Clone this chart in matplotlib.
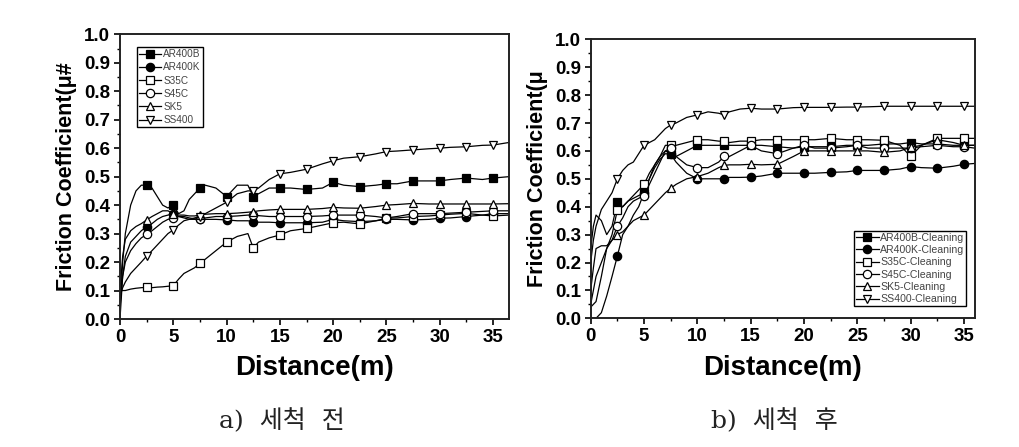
import matplotlib
matplotlib.use('Agg')
import matplotlib.pyplot as plt
from matplotlib.ticker import MultipleLocator

# ---------------- data: panel a (before cleaning) ----------------
dist_a = [0, 0.25, 0.5, 1, 1.5, 2, 2.5, 3, 3.5, 4, 4.5, 5, 5.5, 6, 6.5, 7, 7.5, 8, 9, 10,
          11, 12, 12.5, 13, 14, 15, 16, 17.5, 19, 20, 21, 22.5, 24, 25, 26, 27.5, 29, 30,
          31, 32.5, 34, 35, 36.5]
ar400b_a = [0.03, 0.20, 0.30, 0.40, 0.45, 0.47, 0.47, 0.46, 0.43, 0.40, 0.39, 0.40, 0.37,
            0.38, 0.42, 0.44, 0.46, 0.47, 0.46, 0.43, 0.47, 0.47, 0.43, 0.44, 0.46, 0.46,
            0.46, 0.455, 0.46, 0.48, 0.47, 0.465, 0.47, 0.475, 0.475, 0.485, 0.485, 0.485,
            0.49, 0.495, 0.49, 0.495, 0.50]
ar400k_a = [0.0, 0.15, 0.22, 0.27, 0.29, 0.31, 0.324, 0.335, 0.35, 0.36, 0.365, 0.37, 0.36,
            0.355, 0.35, 0.35, 0.35, 0.35, 0.35, 0.348, 0.345, 0.345, 0.342, 0.34, 0.34,
            0.338, 0.338, 0.338, 0.34, 0.35, 0.345, 0.342, 0.345, 0.35, 0.35, 0.348, 0.35,
            0.354, 0.355, 0.36, 0.365, 0.37, 0.37]
s35c_a = [0.10, 0.10, 0.10, 0.105, 0.108, 0.11, 0.111, 0.11, 0.112, 0.113, 0.115, 0.117,
          0.14, 0.16, 0.17, 0.18, 0.196, 0.21, 0.24, 0.27, 0.29, 0.30, 0.25, 0.27, 0.285,
          0.295, 0.31, 0.318, 0.33, 0.338, 0.34, 0.334, 0.345, 0.354, 0.355, 0.36, 0.362,
          0.365, 0.368, 0.371, 0.365, 0.362, 0.365]
s45c_a = [0.05, 0.15, 0.20, 0.24, 0.265, 0.285, 0.297, 0.31, 0.325, 0.34, 0.35, 0.355, 0.36,
          0.36, 0.355, 0.352, 0.35, 0.355, 0.36, 0.36, 0.362, 0.365, 0.365, 0.363, 0.36,
          0.36, 0.36, 0.36, 0.362, 0.365, 0.365, 0.365, 0.36, 0.355, 0.36, 0.37, 0.37,
          0.37, 0.372, 0.375, 0.378, 0.38, 0.38]
sk5_a = [0.10, 0.22, 0.28, 0.31, 0.325, 0.335, 0.348, 0.36, 0.37, 0.38, 0.38, 0.37, 0.365,
         0.365, 0.362, 0.362, 0.365, 0.368, 0.37, 0.37, 0.372, 0.375, 0.377, 0.38, 0.383,
         0.385, 0.385, 0.385, 0.388, 0.392, 0.39, 0.389, 0.395, 0.40, 0.402, 0.406, 0.404,
         0.404, 0.404, 0.404, 0.404, 0.404, 0.405]
ss400_a = [0.08, 0.11, 0.13, 0.16, 0.18, 0.20, 0.221, 0.24, 0.26, 0.28, 0.30, 0.313, 0.33,
           0.345, 0.35, 0.355, 0.36, 0.37, 0.39, 0.41, 0.44, 0.45, 0.45, 0.46, 0.49, 0.51,
           0.515, 0.526, 0.545, 0.556, 0.565, 0.57, 0.58, 0.588, 0.59, 0.594, 0.598, 0.60,
           0.603, 0.605, 0.61, 0.611, 0.62]

# ---------------- data: panel b (after cleaning) ----------------
dist_b = [0, 0.25, 0.5, 1, 1.5, 2, 2.5, 3, 3.5, 4, 4.5, 5, 5.5, 6, 6.5, 7, 7.5, 8, 9, 10,
          11, 12, 12.5, 13, 14, 15, 16, 17.5, 19, 20, 21, 22.5, 24, 25, 26, 27.5, 29, 30,
          31, 32.5, 34, 35, 36]
ar400b_b = [0.25, 0.33, 0.37, 0.35, 0.30, 0.33, 0.416, 0.40, 0.42, 0.43, 0.44, 0.45, 0.50,
            0.55, 0.58, 0.60, 0.59, 0.58, 0.60, 0.62, 0.62, 0.62, 0.62, 0.62, 0.62, 0.62,
            0.62, 0.615, 0.61, 0.615, 0.615, 0.615, 0.62, 0.62, 0.62, 0.625, 0.625, 0.63,
            0.625, 0.625, 0.62, 0.62, 0.62]
ar400k_b = [0.0, 0.0, 0.0, 0.02, 0.08, 0.15, 0.223, 0.30, 0.33, 0.37, 0.40, 0.45, 0.50,
            0.54, 0.57, 0.59, 0.588, 0.56, 0.52, 0.50, 0.50, 0.50, 0.50, 0.505, 0.505,
            0.506, 0.51, 0.52, 0.52, 0.52, 0.52, 0.523, 0.525, 0.53, 0.53, 0.53, 0.535,
            0.544, 0.54, 0.538, 0.545, 0.552, 0.555]
s35c_b = [0.04, 0.05, 0.06, 0.15, 0.25, 0.30, 0.388, 0.40, 0.42, 0.44, 0.46, 0.48, 0.52,
          0.55, 0.58, 0.62, 0.62, 0.62, 0.63, 0.64, 0.64, 0.635, 0.635, 0.63, 0.635, 0.635,
          0.64, 0.64, 0.64, 0.64, 0.64, 0.645, 0.64, 0.64, 0.64, 0.638, 0.62, 0.58, 0.62,
          0.645, 0.645, 0.645, 0.645]
s45c_b = [0.10, 0.18, 0.25, 0.26, 0.26, 0.28, 0.33, 0.36, 0.40, 0.42, 0.43, 0.44, 0.48,
          0.52, 0.56, 0.60, 0.61, 0.58, 0.55, 0.54, 0.54, 0.56, 0.58, 0.58, 0.60, 0.62,
          0.60, 0.59, 0.61, 0.62, 0.61, 0.61, 0.615, 0.62, 0.61, 0.61, 0.61, 0.61, 0.615,
          0.62, 0.615, 0.615, 0.61]
sk5_b = [0.05, 0.10, 0.15, 0.20, 0.25, 0.28, 0.30, 0.31, 0.33, 0.35, 0.36, 0.37, 0.39,
         0.41, 0.43, 0.45, 0.466, 0.48, 0.50, 0.508, 0.52, 0.54, 0.548, 0.55, 0.55, 0.552,
         0.55, 0.552, 0.58, 0.60, 0.60, 0.60, 0.60, 0.60, 0.60, 0.595, 0.60, 0.613, 0.62,
         0.64, 0.63, 0.62, 0.62]
ss400_b = [0.20, 0.28, 0.33, 0.39, 0.42, 0.45, 0.50, 0.53, 0.55, 0.56, 0.59, 0.62, 0.63,
           0.64, 0.66, 0.68, 0.693, 0.70, 0.72, 0.729, 0.74, 0.735, 0.729, 0.74, 0.75,
           0.753, 0.75, 0.75, 0.755, 0.756, 0.756, 0.756, 0.757, 0.757, 0.758, 0.76, 0.76,
           0.76, 0.76, 0.76, 0.76, 0.76, 0.76]

labels_a = ["AR400B", "AR400K", "S35C", "S45C", "SK5", "SS400"]
labels_b = ["AR400B-Cleaning", "AR400K-Cleaning", "S35C-Cleaning", "S45C-Cleaning",
            "SK5-Cleaning", "SS400-Cleaning"]
xticks = [0, 5, 10, 15, 20, 25, 30, 35]
yticks = [0.0, 0.1, 0.2, 0.3, 0.4, 0.5, 0.6, 0.7, 0.8, 0.9, 1.0]
caption_a = "a)  세척  전"
caption_b = "b)  세척  후"
ylabel_a = "Friction Coefficient(μ#"
ylabel_b = "Friction Coefficient(μ"
xlabel = "Distance(m)"

styles = [('s', 'black'), ('o', 'black'), ('s', 'white'), ('o', 'white'),
          ('^', 'white'), ('v', 'white')]

plt.rcParams['font.family'] = ['Liberation Sans', 'DejaVu Sans']

fig = plt.figure(figsize=(10.19, 4.47), dpi=100)
ax1 = fig.add_axes([120 / 1019, 1 - 319 / 447, 389 / 1019, 284.7 / 447])
ax2 = fig.add_axes([590.7 / 1019, 1 - 318.3 / 447, 384 / 1019, 279 / 447])


def draw(ax, xs, series, labels, xmax, ylabel):
    for ys, lab, (mk, fc) in zip(series, labels, styles):
        mask = [(d > 0 and abs(d / 2.5 - round(d / 2.5)) < 1e-9) for d in xs]
        ax.plot(xs, ys, color='black', lw=0.9, marker=mk, markersize=6,
                markerfacecolor=fc, markeredgecolor='black', markeredgewidth=0.9,
                markevery=mask, label=lab)
    ax.set_xlim(0, xmax)
    ax.set_ylim(0, 1.0)
    ax.set_xticks(xticks)
    ax.set_yticks(yticks)
    ax.set_yticklabels([f"{v:.1f}" for v in yticks])
    ax.xaxis.set_minor_locator(MultipleLocator(2.5))
    ax.yaxis.set_minor_locator(MultipleLocator(0.05))
    ax.tick_params(which='major', direction='out', length=4, width=1.2,
                   labelsize=13.5, pad=3)
    ax.tick_params(which='minor', direction='out', length=2.5, width=1.0)
    ax.tick_params(top=False, right=False)
    for lab in ax.get_xticklabels() + ax.get_yticklabels():
        lab.set_fontweight('bold')
    for sp in ax.spines.values():
        sp.set_linewidth(1.4)
        sp.set_color('#222222')
    ax.set_xlabel(xlabel, fontsize=20, fontweight='bold', labelpad=7)
    ax.set_ylabel(ylabel, fontsize=15.5, fontweight='bold', labelpad=5)
    return ax


draw(ax1, dist_a, [ar400b_a, ar400k_a, s35c_a, s45c_a, sk5_a, ss400_a], labels_a, 36.5,
     ylabel_a)
draw(ax2, dist_b, [ar400b_b, ar400k_b, s35c_b, s45c_b, sk5_b, ss400_b], labels_b, 36.0,
     ylabel_b)

leg1 = ax1.legend(loc='upper left', bbox_to_anchor=(0.044, 0.955), borderaxespad=0,
                  fontsize=7.2, frameon=True, fancybox=False, edgecolor='black',
                  framealpha=1, borderpad=0.2, labelspacing=0.32, handlelength=2.2,
                  handletextpad=0.2, markerscale=1.0)
leg1.get_frame().set_linewidth(1.0)
for t in leg1.get_texts():
    t.set_color('#444444')

leg2 = ax2.legend(loc='lower right', bbox_to_anchor=(0.977, 0.044), borderaxespad=0,
                  fontsize=7.6, frameon=True, fancybox=False, edgecolor='black',
                  framealpha=1, borderpad=0.15, labelspacing=0.22, handlelength=2.2,
                  handletextpad=0.1, markerscale=1.0)
leg2.get_frame().set_linewidth(1.0)
for t in leg2.get_texts():
    t.set_color('#444444')

cap_family = ['DejaVu Serif', 'Noto Sans CJK KR']
fig.text(282 / 1019, 1 - 421 / 447, caption_a, ha='center', va='center', fontsize=18,
         family=cap_family, fontweight='light', color='#222222')
fig.text(774 / 1019, 1 - 421 / 447, caption_b, ha='center', va='center', fontsize=18,
         family=cap_family, fontweight='light', color='#222222')

fig.savefig('out.png', dpi=100)
